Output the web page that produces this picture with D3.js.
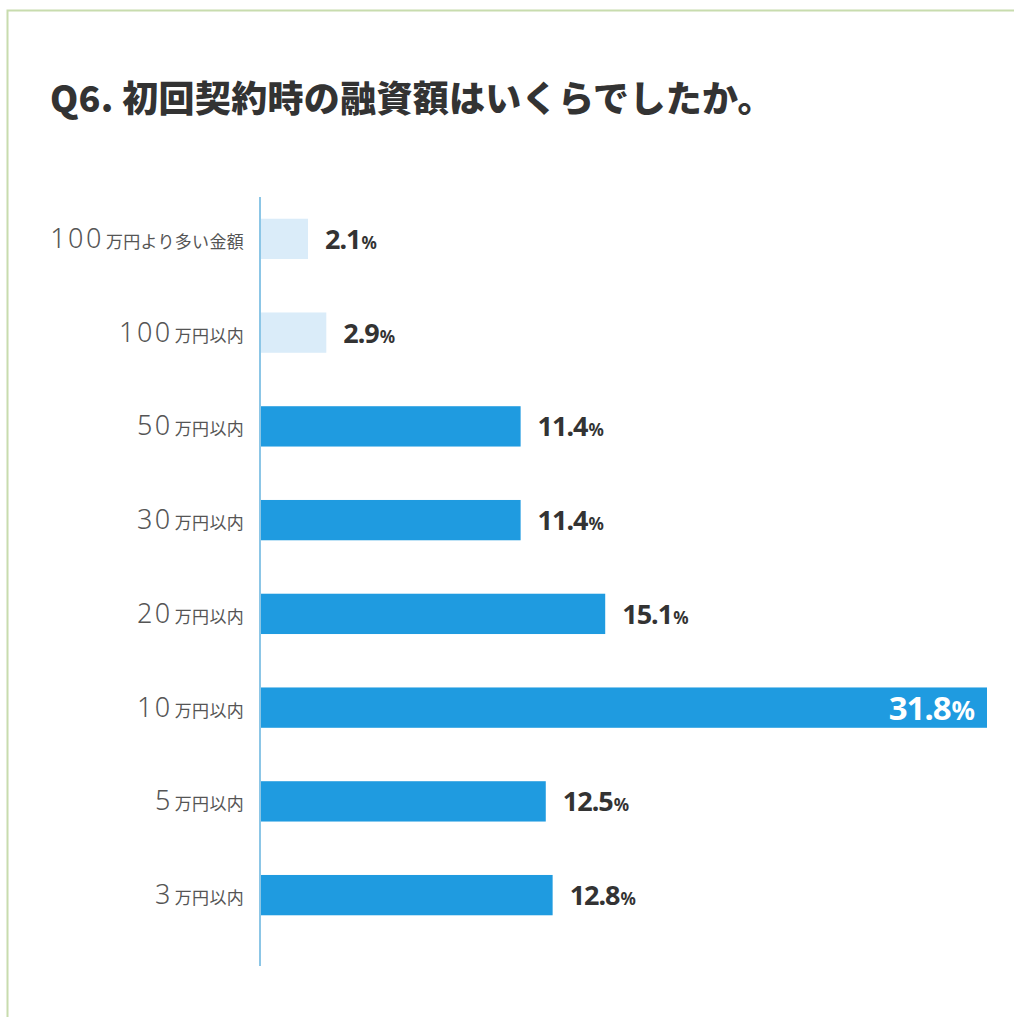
<!DOCTYPE html>
<html><head><meta charset="utf-8">
<script src="https://cdn.jsdelivr.net/npm/d3@7"></script>
<style>
html,body{margin:0;padding:0;background:#fff;}
svg{display:block;}
</style></head>
<body>
<svg id="chart" width="1014" height="1017"></svg>
<script>
const categoriesNum = ["100", "100", "50", "30", "20", "10", "5", "3"];
const categoriesSuffix = ["万円より多い金額", "万円以内", "万円以内", "万円以内", "万円以内", "万円以内", "万円以内", "万円以内"];
const values = [2.1, 2.9, 11.4, 11.4, 15.1, 31.8, 12.5, 12.8];
const highlight = [false, false, true, true, true, true, true, true];
const title = "Q6. 初回契約時の融資額はいくらでしたか。";

const svg = d3.select("#chart");
const font = "'Noto Sans CJK JP','Noto Sans',sans-serif";

// frame
svg.append("path").attr("d","M7.5,1017 L7.5,10.5 L1014,10.5")
  .attr("fill","none").attr("stroke","#c8dcae").attr("stroke-width",2);

svg.append("text").attr("x",50).attr("y",112)
  .attr("font-family",font).attr("font-weight",900).attr("font-size",36)
  .attr("fill","#333").attr("letter-spacing","0.3")
  .text(title);

const x0 = 260;
const x = d3.scaleLinear().domain([0, 31.8]).range([x0, 987]);
const idx = d3.range(values.length);
const y = d3.scaleBand().domain(idx).range([192, 942]).paddingInner(0.57).paddingOuter(0.285);

svg.selectAll("rect.bar").data(idx).join("rect").attr("class","bar")
  .attr("x", x(0)).attr("y", i => y(i)).attr("height", y.bandwidth())
  .attr("width", i => x(values[i]) - x(0))
  .attr("fill", i => highlight[i] ? "#1f9be0" : "#daecf9");

// axis line
svg.append("line").attr("x1",x0).attr("x2",x0).attr("y1",197).attr("y2",966)
  .attr("stroke","#8cc6e6").attr("stroke-width",2);

// category labels
const lab = svg.selectAll("text.cat").data(idx).join("text").attr("class","cat")
  .attr("x", 244).attr("y", i => y(i) + y.bandwidth()/2 + 9)
  .attr("text-anchor","end").attr("font-family",font).attr("fill","#555");
lab.append("tspan").attr("font-size",27).attr("font-family","'Noto Sans',sans-serif").attr("font-weight",300).attr("letter-spacing","2.5").text(i => categoriesNum[i]);
lab.append("tspan").attr("font-size",17).attr("dx",2).attr("letter-spacing","0.3").text(i => categoriesSuffix[i]);

// value labels
const maxV = d3.max(values);
const vl = svg.selectAll("text.val").data(idx).join("text").attr("class","val")
  .attr("x", i => values[i] === maxV ? x(values[i]) - 12 : x(values[i]) + 17)
  .attr("y", i => y(i) + y.bandwidth()/2 + (values[i] === maxV ? 12 : 10))
  .attr("text-anchor", i => values[i] === maxV ? "end" : "start")
  .attr("font-family","'Noto Sans',sans-serif").attr("font-weight",700)
  .attr("fill", i => values[i] === maxV ? "#fff" : "#333");
vl.append("tspan").attr("font-size", i => values[i] === maxV ? 33 : 27).attr("letter-spacing","-1").text(i => values[i].toFixed(1));
vl.append("tspan").attr("font-size", i => values[i] === maxV ? 26 : 17).attr("dx",1).text("%");
</script>
</body></html>
